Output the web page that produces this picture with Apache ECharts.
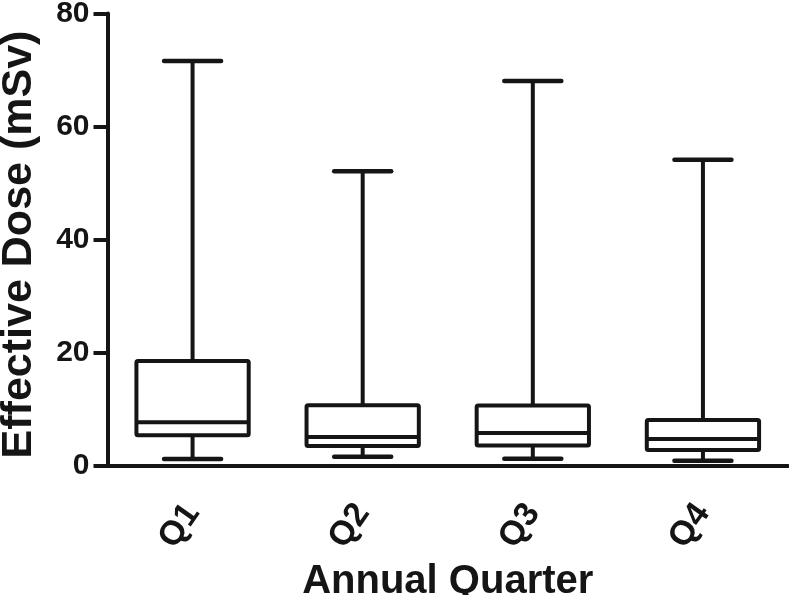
<!DOCTYPE html>
<html>
<head>
<meta charset="utf-8">
<script src="https://cdn.jsdelivr.net/npm/echarts@6/dist/echarts.min.js"></script>
<style>html,body{margin:0;padding:0;background:#fff}#c{width:789px;height:595px}</style>
</head>
<body>
<div id="c"></div>
<script>
var categories = ['Q1', 'Q2', 'Q3', 'Q4'];
var minValues = [1.15, 1.55, 1.2, 0.85];
var q1Values = [5.35, 3.45, 3.55, 2.75];
var medianValues = [7.65, 5.05, 5.75, 4.7];
var q3Values = [18.5, 10.65, 10.6, 8.05];
var maxValues = [71.6, 52.1, 68.05, 54.1];
var yTicks = [0, 20, 40, 60, 80];

var INK = '#151515';
var FONT = '"Liberation Sans", Arial, Helvetica, sans-serif';

var data = categories.map(function (c, i) {
  return [i, minValues[i], q1Values[i], medianValues[i], q3Values[i], maxValues[i]];
});

function renderItem(params, api) {
  var idx = api.value(0);
  var bw = api.size([1, 0])[0];
  var boxW = bw * 0.66;
  var capW = bw * 0.335;
  var pMin = api.coord([idx, api.value(1)]);
  var pQ1 = api.coord([idx, api.value(2)]);
  var pMed = api.coord([idx, api.value(3)]);
  var pQ3 = api.coord([idx, api.value(4)]);
  var pMax = api.coord([idx, api.value(5)]);
  var cx = pMed[0];
  var style = { stroke: INK, lineWidth: 4, fill: null };
  var capStyle = { stroke: INK, lineWidth: 4.5, lineCap: 'round' };
  return {
    type: 'group',
    children: [
      { type: 'line', shape: { x1: cx, y1: pMax[1], x2: cx, y2: pQ3[1] }, style: style },
      { type: 'line', shape: { x1: cx, y1: pQ1[1], x2: cx, y2: pMin[1] }, style: style },
      { type: 'line', shape: { x1: cx - capW / 2, y1: pMax[1], x2: cx + capW / 2, y2: pMax[1] }, style: capStyle },
      { type: 'line', shape: { x1: cx - capW / 2, y1: pMin[1], x2: cx + capW / 2, y2: pMin[1] }, style: capStyle },
      { type: 'rect', shape: { x: cx - boxW / 2, y: pQ3[1], width: boxW, height: pQ1[1] - pQ3[1], r: 1.5 }, style: { stroke: INK, lineWidth: 4, fill: '#fff' } },
      { type: 'line', shape: { x1: cx - boxW / 2, y1: pMed[1], x2: cx + boxW / 2, y2: pMed[1] }, style: style }
    ]
  };
}

var chart = echarts.init(document.getElementById('c'));
chart.setOption({
  backgroundColor: '#fff',
  animation: false,
  grid: { left: 107.5, right: 1, top: 13.5, bottom: 129.5, containLabel: false, outerBoundsMode: 'none' },
  xAxis: {
    type: 'category',
    data: categories,
    boundaryGap: true,
    axisLine: { lineStyle: { color: INK, width: 4 } },
    axisTick: { alignWithLabel: true, length: 14, lineStyle: { color: INK, width: 4 } },
    axisLabel: { rotate: 55, margin: 42, color: INK, fontSize: 34, fontWeight: 'bold', fontFamily: FONT },
    name: 'Annual Quarter',
    nameLocation: 'middle',
    nameGap: 88,
    nameTextStyle: { color: INK, fontSize: 40, fontWeight: 'bold', fontFamily: FONT }
  },
  yAxis: {
    type: 'value',
    min: yTicks[0],
    max: yTicks[yTicks.length - 1],
    interval: 20,
    splitLine: { show: false },
    axisLine: { show: true, lineStyle: { color: INK, width: 4 } },
    axisTick: { show: true, length: 14, lineStyle: { color: INK, width: 4 } },
    axisLabel: { margin: 18, color: INK, fontSize: 30, fontWeight: 'bold', fontFamily: FONT },
    name: 'Effective Dose (mSv)',
    nameLocation: 'middle',
    nameGap: 67,
    nameTextStyle: { color: INK, fontSize: 43, fontWeight: 'bold', fontFamily: FONT, padding: [0, 10, 0, 0] }
  },
  series: [{
    type: 'custom',
    renderItem: renderItem,
    encode: { x: 0, y: [1, 2, 3, 4, 5] },
    data: data,
    clip: false
  }]
});
</script>
</body>
</html>
